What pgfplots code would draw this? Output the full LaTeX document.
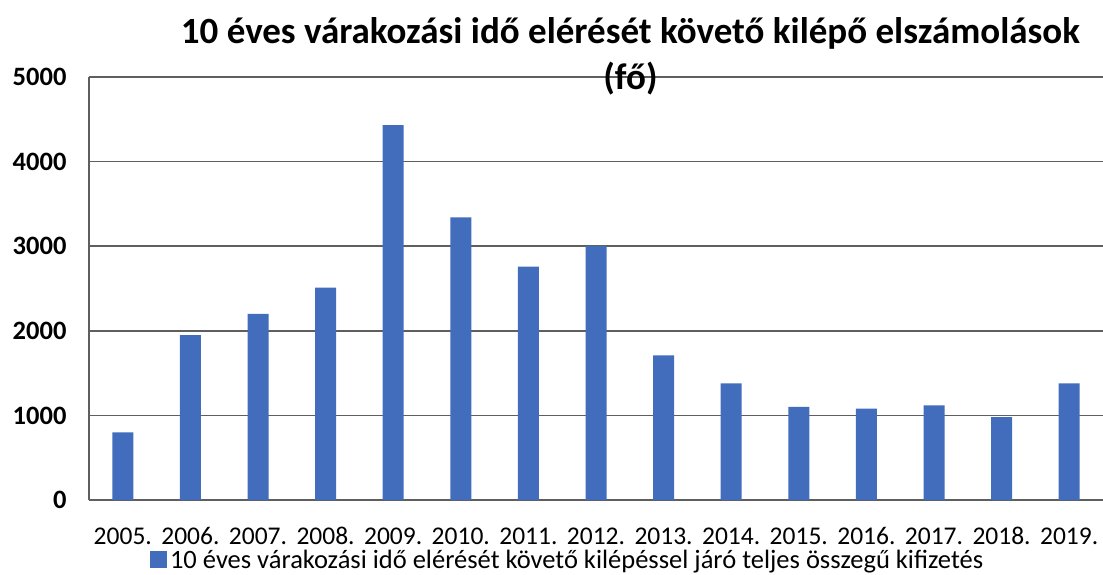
\documentclass[border=0pt]{standalone}
\usepackage{pgfplots}
\pgfplotsset{compat=1.18}
\usepackage{fontspec}
\setmainfont{Carlito}
\definecolor{barblue}{RGB}{66,108,188}
\definecolor{gridgray}{RGB}{95,95,95}
\begin{document}
\begin{tikzpicture}
\useasboundingbox (0,0) rectangle (1103pt,574pt);
\begin{axis}[
  at={(89pt,74pt)}, anchor=south west,
  scale only axis,
  width=1014pt, height=423pt,
  xmin=-0.5, xmax=14.5,
  ymin=0, ymax=5000,
  ytick={0,1000,2000,3000,4000,5000},
  xtick={0,...,14},
  xticklabels={2005.,2006.,2007.,2008.,2009.,2010.,2011.,2012.,2013.,2014.,2015.,2016.,2017.,2018.,2019.},
  major tick length=0pt,
  axis x line*=bottom, axis y line*=left,
  axis line style={gridgray, line width=1.5pt, -},
  ymajorgrids, grid style={gridgray, line width=1.5pt},
  /pgf/number format/assume math mode=true,
  /pgf/number format/1000 sep={},
  yticklabel style={font=\fontsize{26.5}{30}\selectfont\bfseries, xshift=-19pt},
  xticklabel style={font=\fontsize{25.5}{30}\selectfont, anchor=base, yshift=-44pt, inner sep=0.5pt},
  title={10 éves várakozási idő elérését követő kilépő elszámolások\\(fő)},
  title style={align=center, anchor=center, at={(rel axis cs:0.534,1)}, yshift=15pt,
    font=\fontsize{37}{46}\selectfont\bfseries},
  legend style={at={(rel axis cs:0.471,0)}, anchor=center, yshift=-60pt, draw=none,
    font=\fontsize{26.5}{30}\selectfont, legend cell align=left, inner sep=0pt,
    nodes={inner sep=0.5pt}},
  legend image code/.code={\fill[barblue] (0pt,-7.5pt) rectangle (17pt,9pt);},
]
\addplot[ybar, bar width=21pt, fill=barblue, draw=none] coordinates {
(0,800) (1,1950) (2,2200) (3,2510) (4,4430) (5,3340) (6,2760) (7,3000)
(8,1710) (9,1380) (10,1100) (11,1080) (12,1120) (13,980) (14,1380)};
\addlegendentry{\hspace{3pt}10 éves várakozási idő elérését követő kilépéssel járó teljes összegű kifizetés}
\end{axis}
\end{tikzpicture}
\end{document}
